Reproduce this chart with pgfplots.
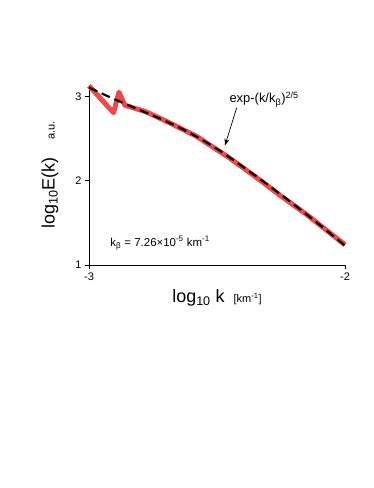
\documentclass[border=0pt]{standalone}
\usepackage{pgfplots}
\pgfplotsset{compat=1.18}
\usetikzlibrary{arrows.meta}
\usepackage{fontspec}
\setmainfont{Liberation Sans}
\definecolor{specred}{RGB}{240,72,72}

\begin{document}
\begin{tikzpicture}
% page frame: axis corner at (0,0), image is 374 x 488
\path (-89bp,-223bp) rectangle (285bp,265bp);
\begin{axis}[
at={(0,0)},anchor=south west,
scale only axis,width=256bp,height=180bp,
xmin=-3,xmax=-2,ymin=1,ymax=3.14,
axis x line=bottom,axis y line=left,
axis line style={-,line width=0.8pt},
xtick={-3,-2},xticklabels={-3,-2},
ytick={1,2,3},yticklabels={1,2,3},
tick align=outside,major tick length=4bp,
tick style={black,line width=0.8pt},
tick label style={font=\fontsize{11}{12}\selectfont},
clip=false,
xlabel={\fontsize{18}{20}\selectfont log\textsubscript{10} k\enspace{\fontsize{11}{12}\selectfont[km\textsuperscript{-1}]}},
xlabel style={at={(axis description cs:0.5,-0.183)},anchor=center},
ylabel={\fontsize{18}{20}\selectfont log\textsubscript{10}E(k)\quad{\fontsize{11}{12}\selectfont a.u.}},
ylabel style={at={(axis description cs:-0.152,0.50)},anchor=center,rotate=0},
]
\addplot[specred,line width=5pt,line join=round] coordinates {
(-3.0,3.13)(-2.904,2.81)(-2.883,3.055)(-2.86,2.90)(-2.776,2.82)(-2.685,2.69)
(-2.58,2.53)(-2.45,2.27)(-2.35,2.05)(-2.25,1.82)(-2.15,1.60)(-2.05,1.36)(-2.0,1.24)};
\addplot[black,line width=2.2pt,dash pattern=on 9pt off 5pt,smooth] coordinates {
(-3.0,3.11)(-2.9,2.97)(-2.8,2.84)(-2.7,2.71)(-2.6,2.56)(-2.5,2.38)
(-2.4,2.17)(-2.3,1.95)(-2.2,1.72)(-2.1,1.48)(-2.0,1.23)};
\node[anchor=center,font=\fontsize{13}{14}\selectfont] at (axis cs:-2.316,2.97) {exp-(k/k\textsubscript{β})\textsuperscript{2/5}};
\draw[-{Stealth[length=7pt,width=5pt]},line width=0.7pt] (axis cs:-2.423,2.87) -- (axis cs:-2.469,2.42);
\node[anchor=west,font=\fontsize{11.5}{13}\selectfont] at (axis cs:-2.93,1.26) {k\textsubscript{β} = 7.26×10\textsuperscript{-5} km\textsuperscript{-1}};
\end{axis}
\end{tikzpicture}
\end{document}
